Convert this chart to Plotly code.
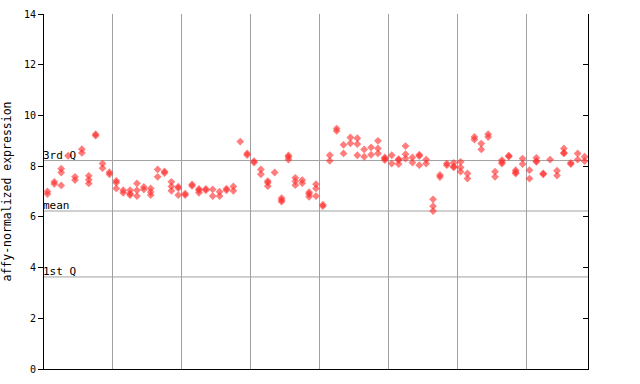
import plotly.graph_objects as go

# replicate expression values for each sample column (left to right)
expression = [
    [6.9, 7.0], [7.3, 7.38], [7.9, 7.75, 7.24], [8.41], [7.58, 7.45],
    [8.67, 8.52], [7.62, 7.46, 7.32], [9.2, 9.26], [8.1, 7.92], [7.76, 7.68],
    [7.42, 7.35, 7.12], [7.05, 6.95], [7.05, 6.92, 6.86], [7.32, 7.05, 6.82], [7.18, 7.08],
    [7.12, 6.98, 6.86], [7.87, 7.58], [7.79, 7.73], [7.38, 7.2, 7.03], [7.19, 7.13, 6.86],
    [6.92, 6.86], [7.28, 7.22], [7.1, 7.05, 6.95], [7.1, 7.05], [7.08, 6.82],
    [6.99, 6.82], [7.11, 7.05], [7.2, 7.03], [8.97], [8.5, 8.44],
    [8.2, 8.14], [7.87, 7.68], [7.41, 7.35, 7.21], [7.75], [6.66, 6.6, 6.74],
    [8.42, 8.36, 8.26], [7.54, 7.4, 7.25], [7.45, 7.33], [6.97, 6.9, 6.79], [7.29, 7.12, 6.82],
    [6.48, 6.42], [8.43, 8.21], [9.39, 9.48], [8.84, 8.5], [9.13, 8.9],
    [9.1, 8.87, 8.43], [8.66, 8.37], [8.74, 8.45], [9.0, 8.7, 8.5], [8.34, 8.24, 8.3],
    [8.43, 8.1], [8.28, 8.24, 8.08], [8.79, 8.47, 8.3], [8.34, 8.14], [8.45, 8.4, 8.04],
    [8.26, 8.1], [6.69, 6.42, 6.23], [7.65, 7.57], [8.04, 8.1], [8.13, 7.99, 7.95],
    [8.17, 7.95, 7.78], [7.71, 7.51], [9.05, 9.15], [8.89, 8.66], [9.26, 9.15],
    [7.78, 7.58], [8.16, 8.1, 8.24], [8.41, 8.38], [7.84, 7.76, 7.71], [8.3, 8.08],
    [7.84, 7.51], [8.33, 8.2, 8.17], [7.71, 7.68], [8.26], [7.82, 7.63],
    [8.7, 8.53, 8.5], [8.13, 8.08], [8.5, 8.26], [8.37, 8.2],
]

ref_names = ["3rd Q", "mean", "1st Q"]
ref_values = [8.22, 6.23, 3.63]

y_ticks = [0, 2, 4, 6, 8, 10, 12, 14]
group_size = 10

xs, ys = [], []
for i, reps in enumerate(expression):
    for v in reps:
        xs.append(i)
        ys.append(v)

n = len(expression)
font = dict(family="DejaVu Sans Mono", size=10, color="black")
font_lg = dict(family="DejaVu Sans Mono", size=11, color="black")

fig = go.Figure()
fig.add_trace(go.Scatter(
    x=xs, y=ys, mode="markers",
    marker=dict(symbol="diamond", size=6, color="rgba(255,45,45,0.62)", line=dict(width=0)),
    showlegend=False, hoverinfo="y",
))
fig.add_trace(go.Scatter(x=[0], y=[0], yaxis="y2", mode="markers",
                         marker=dict(opacity=0), showlegend=False, hoverinfo="skip"))

for name, v in zip(ref_names, ref_values):
    fig.add_hline(y=v, line=dict(color="#a0a0a0", width=1), layer="below")
    fig.add_annotation(x=0, xref="paper", y=v, yref="y", text=name, showarrow=False,
                       xanchor="left", yanchor="bottom", font=font_lg, xshift=-3, yshift=-3)

grid_x = [g - 0.5 for g in range(group_size, n, group_size)]

fig.update_layout(
    width=640, height=384,
    margin=dict(l=44, r=52, t=14, b=15, autoexpand=False),
    paper_bgcolor="white", plot_bgcolor="white",
    font=font,
    xaxis=dict(range=[-0.5, n - 0.5], tickvals=grid_x, showticklabels=False, ticks="",
               showgrid=True, gridcolor="#a0a0a0", gridwidth=1, zeroline=False,
               showline=True, linecolor="black", linewidth=1, automargin=False),
    yaxis=dict(range=[0, 14], tickvals=y_ticks, ticks="outside", ticklen=5,
               tickcolor="black", showgrid=False, zeroline=False, automargin=False,
               showline=True, linecolor="black", linewidth=1,
               title=dict(text="affy-normalized expression", font=dict(family="DejaVu Sans Mono", size=11.5, color="black"), standoff=10)),
    yaxis2=dict(range=[0, 14], tickvals=y_ticks, ticks="inside", ticklen=5,
                tickcolor="black", overlaying="y", side="right", showticklabels=False,
                showgrid=False, zeroline=False, showline=True, linecolor="black", linewidth=1,
                automargin=False),
)

fig.write_html("out.html", config={"displayModeBar": False},
               post_script="document.body.style.margin='0';")
